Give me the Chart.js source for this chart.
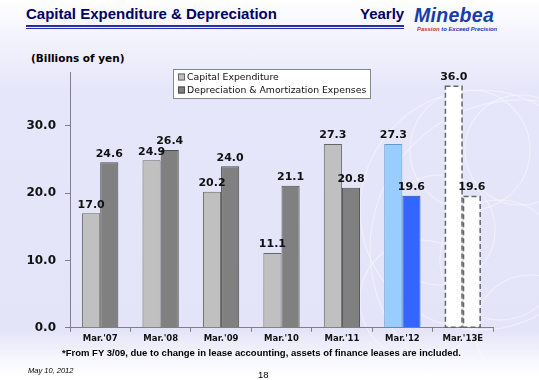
<!DOCTYPE html>
<html><head><meta charset="utf-8">
<script src="https://cdn.jsdelivr.net/npm/chart.js@4"></script>
<style>
html,body{margin:0;padding:0;}
body{width:539px;height:380px;position:relative;overflow:hidden;
background:linear-gradient(to bottom,#ffffff 0px,#f2f2fd 40px,#e6e6fa 90px,#e4e4f9 330px,#f4f4fd 355px,#ffffff 375px);
font-family:"Liberation Sans",Arial,sans-serif;}
#title{position:absolute;left:26px;top:5px;font-weight:bold;font-size:15px;color:#000066;}
#yearly{position:absolute;left:360px;top:5px;font-weight:bold;font-size:15px;color:#000066;}
#line1{position:absolute;left:26px;top:25px;width:378px;height:2px;background:#2b2bb0;}
#line2{position:absolute;left:26px;top:28px;width:378px;height:1px;background:#2b2bb0;}
#logo{position:absolute;left:414px;top:4px;font-weight:900;font-style:italic;font-size:19.5px;color:#1a3caa;letter-spacing:0.3px;font-family:"Liberation Sans",Arial,sans-serif;}
#tag{position:absolute;left:417px;top:26px;font-weight:bold;font-style:italic;font-size:5.9px;color:#cc3333;}
#tag span{color:#1a3caa;}
#unit{position:absolute;left:31px;top:52px;font-weight:bold;font-size:10.5px;color:#000;font-family:"DejaVu Sans",Verdana,sans-serif;}
#note{position:absolute;left:-8px;width:539px;text-align:center;top:347px;font-weight:bold;font-size:9.5px;color:#000;}
#date{position:absolute;left:28px;top:366px;font-style:italic;font-size:7.5px;color:#000;}
#page{position:absolute;left:258px;top:369px;font-size:9.5px;color:#000;}
#deco{position:absolute;left:0;top:0;}
#wrap{position:absolute;left:0;top:50px;width:539px;height:300px;}
</style></head>
<body>
<svg id="deco" width="539" height="380">
<g fill="none" stroke="#ffffff" stroke-opacity="0.45" stroke-width="1.1">
<circle cx="470" cy="150" r="60"/><circle cx="520" cy="150" r="55"/><circle cx="440" cy="230" r="55"/>
<circle cx="500" cy="260" r="60"/><circle cx="420" cy="300" r="60"/><circle cx="530" cy="330" r="55"/>
<circle cx="480" cy="210" r="120"/><circle cx="520" cy="250" r="150"/>
</g></svg>
<div id="title">Capital Expenditure &amp; Depreciation</div>
<div id="yearly">Yearly</div>
<div id="line1"></div><div id="line2"></div>
<div id="logo">Minebea</div>
<div id="tag">Passion <span>to Exceed Precision</span></div>
<div id="unit">(Billions of yen)</div>
<div id="wrap"><canvas id="c" width="539" height="300"></canvas></div>
<div id="note">*From FY 3/09, due to change in lease accounting, assets of finance leases are included.</div>
<div id="date">May 10, 2012</div>
<div id="page">18</div>
<script>
const categories = ["Mar.'07","Mar.'08","Mar.'09","Mar.'10","Mar.'11","Mar.'12","Mar.'13E"];
const capex = [17.0, 24.9, 20.2, 11.1, 27.3, 27.3, 36.0];
const depreciation = [24.6, 26.4, 24.0, 21.1, 20.8, 19.6, 19.6];
const seriesNames = ["Capital Expenditure","Depreciation & Amortization Expenses"];
const yTicks = [0, 10, 20, 30];

const capexColors = ['#c0c0c0','#c0c0c0','#c0c0c0','#c0c0c0','#c0c0c0','#99ccff','#ffffff'];
const depColors = ['#808080','#808080','#808080','#808080','#808080','#3366ff','#ffffff'];
const capexBorders = ['#666666','#666666','#666666','#666666','#666666','#6699cc','rgba(0,0,0,0)'];
const depBorders = ['#4d4d4d','#4d4d4d','#4d4d4d','#4d4d4d','#4d4d4d','#2244bb','rgba(0,0,0,0)'];
const estimateIndex = 6;

const labelPlugin = {
  id:'labels',
  afterDatasetsDraw(chart){
    const ctx = chart.ctx;
    ctx.save();
    chart.data.datasets.forEach((ds,di)=>{
      const el = chart.getDatasetMeta(di).data[estimateIndex];
      if(!el) return;
      const p = el.getProps(['x','y','base','width'],true);
      ctx.setLineDash([5,3]);
      ctx.strokeStyle = '#666666';
      ctx.lineWidth = 1.5;
      ctx.strokeRect(p.x - p.width/2 + 0.75, p.y + 0.75, p.width - 1.5, p.base - p.y - 0.75);
      ctx.setLineDash([]);
    });
    ctx.font = 'bold 11px "DejaVu Sans", Verdana, sans-serif';
    ctx.fillStyle = '#111111';
    ctx.textAlign = 'center';
    ctx.textBaseline = 'bottom';
    chart.data.datasets.forEach((ds,di)=>{
      chart.getDatasetMeta(di).data.forEach((el,i)=>{
        const p = el.getProps(['x','y'],true);
        ctx.fillText(ds.data[i].toFixed(1), p.x, p.y - 3);
      });
    });
    const lx = 173, ly = 19, lw = 197, lh = 29;
    ctx.fillStyle = '#ffffff';
    ctx.fillRect(lx, ly, lw, lh);
    ctx.strokeStyle = '#888888';
    ctx.lineWidth = 1;
    ctx.strokeRect(lx+0.5, ly+0.5, lw, lh);
    ctx.font = '9.3px "DejaVu Sans", Verdana, sans-serif';
    ctx.textAlign = 'left';
    ctx.textBaseline = 'middle';
    const sw = [capexColors[0], depColors[0]];
    const sb = [capexBorders[0], depBorders[0]];
    seriesNames.forEach((n,i)=>{
      const yy = ly + 8 + i*13;
      ctx.fillStyle = sw[i];
      ctx.fillRect(lx+5, yy-3.5, 7, 7);
      ctx.strokeStyle = sb[i];
      ctx.strokeRect(lx+5.5, yy-3, 6, 6);
      ctx.fillStyle = '#111111';
      ctx.fillText(n, lx+14, yy+0.5);
    });
    ctx.restore();
  }
};

new Chart(document.getElementById('c'), {
  type:'bar',
  data:{
    labels:categories,
    datasets:[
      {label:seriesNames[0], data:capex, backgroundColor:capexColors, borderColor:capexBorders, borderWidth:1},
      {label:seriesNames[1], data:depreciation, backgroundColor:depColors, borderColor:depBorders, borderWidth:1}
    ]
  },
  options:{
    responsive:false, animation:false,
    layout:{padding:{left:0,right:46,top:22,bottom:4}},
    datasets:{bar:{categoryPercentage:0.6, barPercentage:1.0}},
    plugins:{legend:{display:false}, tooltip:{enabled:false}},
    scales:{
      x:{
        grid:{drawOnChartArea:false, drawTicks:true, tickLength:4, color:'#808080', offset:true},
        border:{color:'#808080'},
        ticks:{font:{family:'"DejaVu Sans", Verdana, sans-serif', size:8.5, weight:'bold'}, color:'#111111', padding:2, maxRotation:0}
      },
      y:{
        min:0, max:38,
        afterBuildTicks(axis){ axis.ticks = yTicks.map(v=>({value:v})); },
        grid:{drawOnChartArea:false, drawTicks:true, tickLength:5, color:'#808080'},
        border:{color:'#808080'},
        afterFit(axis){ axis.width = 70; },
        ticks:{font:{family:'"DejaVu Sans", Verdana, sans-serif', size:12, weight:'bold'}, color:'#111111', padding:9,
          callback:(v)=>Number(v).toFixed(1)}
      }
    }
  },
  plugins:[labelPlugin]
});
</script>
</body></html>
